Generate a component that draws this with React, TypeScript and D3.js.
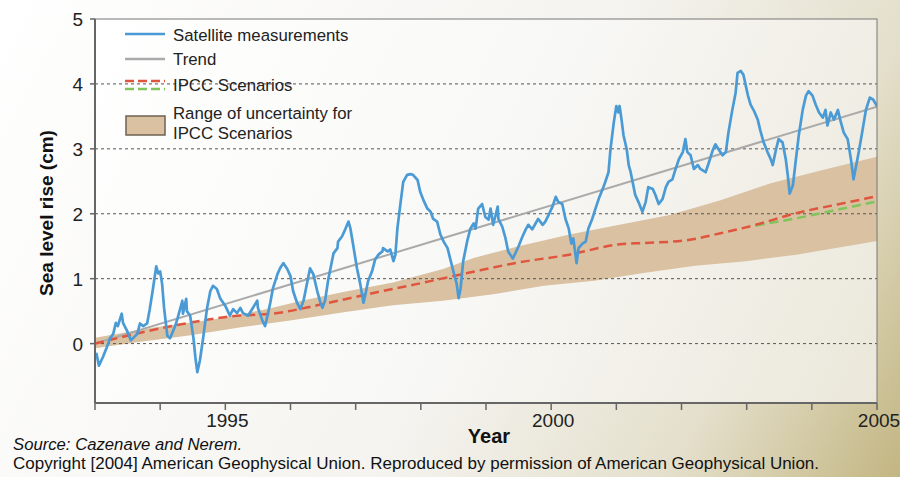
import React from "react";
import * as d3 from "d3";

// Satellite measurements (year, cm)
const satellite: [number, number][] = [
  [1993.02, -0.14], [1993.06, -0.34], [1993.12, -0.21], [1993.18, -0.06], [1993.23, 0.08],
  [1993.28, 0.15], [1993.32, 0.32], [1993.35, 0.27], [1993.41, 0.46], [1993.43, 0.32],
  [1993.49, 0.2], [1993.55, 0.05], [1993.58, 0.08], [1993.65, 0.15], [1993.69, 0.31],
  [1993.74, 0.27], [1993.8, 0.31], [1993.84, 0.53], [1993.89, 0.85], [1993.94, 1.19],
  [1993.97, 1.08], [1994.0, 1.11], [1994.03, 0.92], [1994.06, 0.55], [1994.11, 0.12],
  [1994.15, 0.08], [1994.18, 0.15], [1994.23, 0.27], [1994.27, 0.4], [1994.34, 0.66],
  [1994.35, 0.46], [1994.4, 0.69], [1994.41, 0.5], [1994.46, 0.43], [1994.51, 0.09],
  [1994.54, -0.21], [1994.57, -0.44], [1994.61, -0.26], [1994.66, 0.09], [1994.72, 0.55],
  [1994.77, 0.81], [1994.81, 0.89], [1994.87, 0.84], [1994.92, 0.7], [1995.0, 0.58],
  [1995.07, 0.43], [1995.12, 0.53], [1995.18, 0.47], [1995.23, 0.55], [1995.27, 0.47],
  [1995.35, 0.43], [1995.41, 0.53], [1995.49, 0.66], [1995.5, 0.55], [1995.57, 0.35],
  [1995.61, 0.27], [1995.64, 0.4], [1995.69, 0.63], [1995.73, 0.85], [1995.8, 1.07],
  [1995.84, 1.16], [1995.89, 1.24], [1995.95, 1.15], [1996.0, 1.04], [1996.04, 0.81],
  [1996.1, 0.63], [1996.15, 0.53], [1996.2, 0.66], [1996.26, 0.96], [1996.3, 1.16],
  [1996.35, 1.07], [1996.41, 0.81], [1996.46, 0.63], [1996.49, 0.55], [1996.53, 0.66],
  [1996.58, 0.99], [1996.66, 1.39], [1996.72, 1.47], [1996.73, 1.57], [1996.79, 1.65],
  [1996.84, 1.76], [1996.89, 1.88], [1996.92, 1.77], [1996.96, 1.53], [1997.02, 1.16],
  [1997.07, 0.92], [1997.12, 0.63], [1997.15, 0.76], [1997.19, 0.96], [1997.25, 1.11],
  [1997.3, 1.3], [1997.35, 1.37], [1997.41, 1.42], [1997.42, 1.47], [1997.49, 1.42],
  [1997.53, 1.45], [1997.58, 1.27], [1997.61, 1.37], [1997.64, 1.77], [1997.69, 2.18],
  [1997.73, 2.49], [1997.79, 2.6], [1997.84, 2.61], [1997.88, 2.6], [1997.95, 2.52],
  [1997.99, 2.34], [1998.04, 2.21], [1998.1, 2.08], [1998.15, 2.03], [1998.19, 1.92],
  [1998.25, 1.88], [1998.3, 1.68], [1998.35, 1.57], [1998.41, 1.47], [1998.45, 1.31],
  [1998.5, 1.11], [1998.55, 0.92], [1998.58, 0.7], [1998.61, 0.85], [1998.65, 1.27],
  [1998.71, 1.57], [1998.76, 1.77], [1998.81, 1.85], [1998.84, 1.77], [1998.88, 2.08],
  [1998.94, 2.15], [1998.99, 1.95], [1999.04, 1.91], [1999.07, 2.08], [1999.11, 1.83],
  [1999.18, 2.11], [1999.19, 1.92], [1999.25, 1.8], [1999.3, 1.62], [1999.34, 1.42],
  [1999.41, 1.31], [1999.45, 1.39], [1999.5, 1.5], [1999.56, 1.65], [1999.61, 1.76],
  [1999.65, 1.83], [1999.71, 1.76], [1999.76, 1.85], [1999.8, 1.92], [1999.87, 1.83],
  [1999.91, 1.88], [1999.96, 1.98], [2000.02, 2.11], [2000.07, 2.26], [2000.11, 2.18],
  [2000.17, 2.15], [2000.22, 1.92], [2000.27, 1.77], [2000.31, 1.54], [2000.34, 1.62],
  [2000.39, 1.24], [2000.42, 1.47], [2000.48, 1.54], [2000.53, 1.57], [2000.57, 1.77],
  [2000.63, 1.92], [2000.68, 2.08], [2000.73, 2.23], [2000.79, 2.38], [2000.83, 2.49],
  [2000.88, 2.64], [2000.91, 2.99], [2000.96, 3.4], [2001.0, 3.66], [2001.03, 3.56],
  [2001.05, 3.66], [2001.08, 3.45], [2001.11, 3.21], [2001.16, 2.99], [2001.19, 2.75],
  [2001.22, 2.64], [2001.25, 2.49], [2001.29, 2.29], [2001.34, 2.18], [2001.4, 2.03],
  [2001.45, 2.18], [2001.49, 2.41], [2001.56, 2.38], [2001.6, 2.29], [2001.65, 2.15],
  [2001.71, 2.23], [2001.76, 2.41], [2001.8, 2.49], [2001.86, 2.53], [2001.91, 2.69],
  [2001.96, 2.84], [2002.02, 2.95], [2002.06, 3.15], [2002.09, 2.95], [2002.14, 2.9],
  [2002.19, 2.69], [2002.25, 2.75], [2002.29, 2.69], [2002.37, 2.64], [2002.42, 2.79],
  [2002.48, 2.98], [2002.52, 3.07], [2002.57, 2.99], [2002.63, 2.9], [2002.68, 2.95],
  [2002.72, 3.25], [2002.78, 3.6], [2002.83, 3.86], [2002.86, 4.17], [2002.91, 4.2],
  [2002.95, 4.14], [2003.02, 3.82], [2003.06, 3.68], [2003.11, 3.59], [2003.17, 3.45],
  [2003.21, 3.28], [2003.26, 3.1], [2003.32, 2.95], [2003.37, 2.84], [2003.4, 2.75],
  [2003.45, 2.99], [2003.49, 3.15], [2003.55, 3.1], [2003.6, 2.84], [2003.63, 2.6],
  [2003.66, 2.31], [2003.71, 2.44], [2003.75, 2.79], [2003.8, 3.21], [2003.86, 3.6],
  [2003.91, 3.82], [2003.95, 3.89], [2004.01, 3.82], [2004.06, 3.68], [2004.11, 3.56],
  [2004.17, 3.48], [2004.21, 3.6], [2004.24, 3.36], [2004.29, 3.56], [2004.34, 3.45],
  [2004.4, 3.6], [2004.44, 3.43], [2004.49, 3.25], [2004.55, 3.15], [2004.6, 2.84],
  [2004.64, 2.53], [2004.67, 2.69], [2004.72, 2.95], [2004.78, 3.3], [2004.83, 3.6],
  [2004.89, 3.79], [2004.94, 3.76], [2005.0, 3.66],
];

const trend: [number, number][] = [[1993.0, 0.0], [2005.0, 3.65]];

const ipccRed: [number, number][] = [
  [1993.0, 0.0], [1994.08, 0.25], [1995.01, 0.41], [1995.86, 0.48], [1996.41, 0.59],
  [1997.18, 0.76], [1997.95, 0.92], [1998.73, 1.09], [1999.5, 1.25], [2000.28, 1.37],
  [2001.05, 1.53], [2001.44, 1.55], [2002.06, 1.59], [2002.6, 1.7], [2003.14, 1.83],
  [2003.76, 2.01], [2004.38, 2.14], [2005.0, 2.27],
];

const ipccGreen: [number, number][] = [
  [2003.14, 1.82], [2003.76, 1.93], [2004.38, 2.06], [2005.0, 2.19],
];

const bandUpper: [number, number][] = [
  [1993.0, 0.09], [1993.93, 0.25], [1994.86, 0.38], [1995.63, 0.53], [1996.17, 0.66],
  [1996.79, 0.79], [1997.57, 0.94], [1998.34, 1.15], [1998.81, 1.32], [1999.5, 1.5],
  [2000.28, 1.68], [2001.05, 1.83], [2001.82, 1.98], [2002.6, 2.21], [2003.37, 2.47],
  [2004.15, 2.67], [2005.0, 2.88],
];

const bandLower: [number, number][] = [
  [1993.0, -0.07], [1993.7, 0.03], [1994.47, 0.13], [1995.24, 0.25], [1996.02, 0.36],
  [1996.79, 0.48], [1997.57, 0.59], [1998.34, 0.66], [1999.11, 0.76], [1999.89, 0.89],
  [2000.66, 0.97], [2001.44, 1.09], [2002.21, 1.2], [2002.99, 1.27], [2003.76, 1.37],
  [2004.53, 1.5], [2005.0, 1.58],
];

const yTicks = [0, 1, 2, 3, 4, 5];
const gridValues = [0, 1, 2, 3, 4];
const xTicks = [1993, 1994, 1995, 1996, 1997, 1998, 1999, 2000, 2001, 2002, 2003, 2004, 2005];
const xLabels = [1995, 2000, 2005];

const FONT = "'Liberation Sans', Arial, sans-serif";
const BLUE = "#4a9bd5";
const GREY = "#aaaaaa";
const RED = "#e0553d";
const GREEN = "#80c45c";
const BAND = "#d9c1a2";

export default function App() {
  const left = 95, right = 877, top = 19, bottom = 403;
  const x = d3.scaleLinear().domain([1993, 2005]).range([left, right]);
  const y = d3.scaleLinear().domain([-0.915, 5]).range([bottom, top]);

  const line = d3.line<[number, number]>().x((d) => x(d[0])).y((d) => y(d[1]));
  const lineCurve = d3
    .line<[number, number]>()
    .x((d) => x(d[0]))
    .y((d) => y(d[1]))
    .curve(d3.curveMonotoneX);

  // band polygon: upper forward, lower backward
  const bandPts: [number, number][] = [...bandUpper, ...[...bandLower].reverse()];
  const bandPath = line(bandPts) + "Z";

  return (
    <svg
      width={900}
      height={477}
      style={{ position: "absolute", left: 0, top: 0, fontFamily: FONT }}
    >
      <defs>
        <linearGradient id="bg" gradientUnits="userSpaceOnUse" x1="0" y1="0" x2="900" y2="477">
          <stop offset="0" stopColor="#ffffff" />
          <stop offset="0.55" stopColor="#f4f3ef" />
          <stop offset="0.8" stopColor="#e4dfcb" />
          <stop offset="1" stopColor="#c3b682" />
        </linearGradient>
        <linearGradient id="plotbg" gradientUnits="userSpaceOnUse" x1="95" y1="19" x2="877" y2="403">
          <stop offset="0" stopColor="#ffffff" />
          <stop offset="0.5" stopColor="#f8f8f6" />
          <stop offset="1" stopColor="#ebe7da" />
        </linearGradient>
        <clipPath id="plotclip">
          <rect x={left} y={top} width={right - left} height={bottom - top} />
        </clipPath>
      </defs>

      <rect x={0} y={0} width={900} height={477} fill="url(#bg)" />
      <rect x={left} y={top} width={right - left} height={bottom - top} fill="url(#plotbg)" />

      <g clipPath="url(#plotclip)">
        <path d={bandPath} fill={BAND} />
        {gridValues.map((v) => (
          <line
            key={v}
            x1={left}
            x2={right}
            y1={y(v)}
            y2={y(v)}
            stroke="#555"
            strokeWidth={1}
            strokeDasharray="3,3"
          />
        ))}
        <path d={line(trend) || ""} fill="none" stroke={GREY} strokeWidth={2} />
        <path
          d={lineCurve(ipccGreen) || ""}
          fill="none"
          stroke={GREEN}
          strokeWidth={2.5}
          strokeDasharray="9,5"
        />
        <path
          d={lineCurve(ipccRed) || ""}
          fill="none"
          stroke={RED}
          strokeWidth={2.5}
          strokeDasharray="9,5"
        />
        <path
          d={line(satellite) || ""}
          fill="none"
          stroke={BLUE}
          strokeWidth={2.7}
          strokeLinejoin="round"
        />
      </g>

      {/* frame */}
      <rect x={left} y={top} width={right - left} height={bottom - top} fill="none" stroke="#777" strokeWidth={1} />
      <line x1={left} x2={left} y1={top} y2={bottom} stroke="#666" strokeWidth={2} />
      <line x1={left} x2={right} y1={bottom} y2={bottom} stroke="#666" strokeWidth={2} />

      {/* y axis */}
      {yTicks.map((v) => (
        <g key={v}>
          <line x1={left - 5} x2={left} y1={y(v)} y2={y(v)} stroke="#666" strokeWidth={1.5} />
          <text x={83} y={y(v) + 7} textAnchor="end" fontSize={19} fill="#222">
            {v}
          </text>
        </g>
      ))}

      {/* x axis */}
      {xTicks.map((t) => (
        <line key={t} x1={x(t)} x2={x(t)} y1={bottom} y2={bottom + 7} stroke="#666" strokeWidth={1.5} />
      ))}
      {xLabels.map((t) => (
        <text key={t} x={x(t) + 2} y={427} textAnchor="middle" fontSize={19} fill="#222">
          {t}
        </text>
      ))}

      <text x={489} y={443} textAnchor="middle" fontSize={20} fontWeight="bold" fill="#111">
        Year
      </text>
      <text
        transform="translate(53,213) rotate(-90)"
        textAnchor="middle"
        fontSize={19}
        fontWeight="bold"
        fill="#111"
      >
        Sea level rise (cm)
      </text>

      {/* legend */}
      <line x1={125} x2={165} y1={34} y2={34} stroke={BLUE} strokeWidth={2.5} />
      <text x={173} y={41} fontSize={16.8} fill="#222">Satellite measurements</text>
      <line x1={125} x2={165} y1={59} y2={59} stroke={GREY} strokeWidth={2.5} />
      <text x={173} y={65} fontSize={16.8} fill="#222">Trend</text>
      <line x1={125} x2={165} y1={81} y2={81} stroke={RED} strokeWidth={2.5} strokeDasharray="9,4" />
      <line x1={125} x2={165} y1={89} y2={89} stroke={GREEN} strokeWidth={2.5} strokeDasharray="9,4" />
      <text x={173} y={91} fontSize={16.8} fill="#222">IPCC Scenarios</text>
      <rect x={126} y={116} width={39} height={19} fill={BAND} stroke="#6f6050" strokeWidth={1.5} />
      <text x={173} y={119} fontSize={16.8} fill="#222">Range of uncertainty for</text>
      <text x={173} y={139} fontSize={16.8} fill="#222">IPCC Scenarios</text>

      {/* source */}
      <text x={13} y={450} fontSize={16.7} fontStyle="italic" fill="#111">
        Source: Cazenave and Nerem.
      </text>
      <text x={13} y={469} fontSize={17} fill="#111">
        Copyright [2004] American Geophysical Union. Reproduced by permission of American Geophysical Union.
      </text>
    </svg>
  );
}
